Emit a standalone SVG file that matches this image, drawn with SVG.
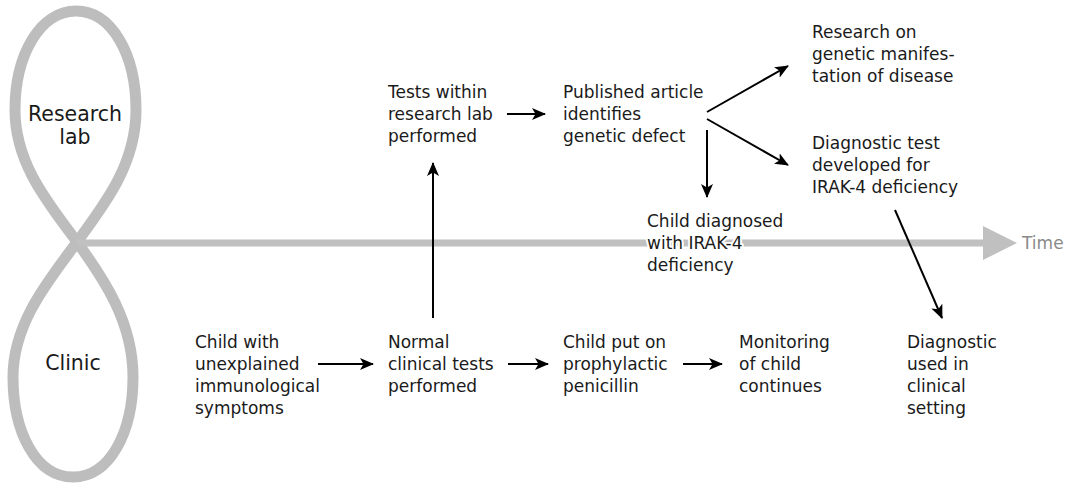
<svg xmlns="http://www.w3.org/2000/svg" width="1077" height="486" viewBox="0 0 1077 486">
  <style>
    .t { font-family: "DejaVu Sans", Verdana, sans-serif; font-size: 17px; fill: #1a1a1a; }
    .halo { stroke: #ffffff; stroke-width: 4; paint-order: stroke; stroke-linejoin: round; }
    .big { font-family: "DejaVu Sans", Verdana, sans-serif; font-size: 20.5px; fill: #1a1a1a; text-anchor: middle; }
    .time { font-family: "DejaVu Sans", Verdana, sans-serif; font-size: 17px; fill: #8a8a8a; }
    .conn { stroke: #000; stroke-width: 2; fill: none; marker-end: url(#arrow); }
  </style>
  <defs>
    <marker id="arrow" markerUnits="userSpaceOnUse" markerWidth="14" markerHeight="12" refX="13" refY="6" orient="auto">
      <path d="M0,0 L14,6 L0,12 L3.5,6 Z" fill="#000"/>
    </marker>
  </defs>
  <rect width="1077" height="486" fill="#ffffff"/>

  <!-- figure-eight: research lab loop above, clinic loop below -->
  <g id="loops">
    <path d="M77,242 C104,205 136,165 136,110 C136,55 112,11 76,11 C40,11 15,55 15,110 C15,165 50,205 77,242 C104,279 133,322 133,377 C133,432 110,477 73,477 C36,477 13,432 13,377 C13,322 50,279 77,242 Z" fill="none" stroke="#bdbdbd" stroke-width="11"/>
    <text class="big" x="75" y="121">Research</text>
    <text class="big" x="75" y="144">lab</text>
    <text class="big" x="73" y="370">Clinic</text>
  </g>

  <!-- time axis -->
  <g id="timeline">
    <rect x="77" y="239.5" width="908" height="7" fill="#c0c0c0"/>
    <polygon points="983,226 1017,243 983,260" fill="#c0c0c0"/>
    <text class="time" x="1022" y="249">Time</text>
  </g>

  <g id="connectors">
    <line class="conn" x1="507" y1="114" x2="545" y2="114"/>
    <line class="conn" x1="707" y1="130" x2="707" y2="197"/>
    <line class="conn" x1="707" y1="112" x2="788" y2="66"/>
    <line class="conn" x1="707" y1="119" x2="788" y2="165"/>
    <line class="conn" x1="895" y1="210" x2="942" y2="318"/>
    <line class="conn" x1="433" y1="318" x2="433" y2="163"/>
    <line class="conn" x1="318" y1="364" x2="373" y2="364"/>
    <line class="conn" x1="508" y1="364" x2="548" y2="364"/>
    <line class="conn" x1="683" y1="364" x2="722" y2="364"/>
  </g>

  <g id="lab-tests">
    <text class="t" x="388" y="98">Tests within</text>
    <text class="t" x="388" y="120">research lab</text>
    <text class="t" x="388" y="142">performed</text>
  </g>
  <g id="published-article">
    <text class="t" x="563" y="98">Published article</text>
    <text class="t" x="563" y="120">identifies</text>
    <text class="t" x="563" y="142">genetic defect</text>
  </g>
  <g id="research-genetic">
    <text class="t" x="812" y="38">Research on</text>
    <text class="t" x="812" y="60">genetic manifes-</text>
    <text class="t" x="812" y="82">tation of disease</text>
  </g>
  <g id="diagnostic-test">
    <text class="t" x="812" y="149">Diagnostic test</text>
    <text class="t" x="812" y="171">developed for</text>
    <text class="t" x="812" y="193">IRAK-4 deficiency</text>
  </g>
  <g id="child-diagnosed">
    <text class="t halo" x="647" y="227">Child diagnosed</text>
    <text class="t halo" x="647" y="249">with IRAK-4</text>
    <text class="t halo" x="647" y="271">deficiency</text>
  </g>
  <g id="child-symptoms">
    <text class="t" x="195" y="348">Child with</text>
    <text class="t" x="195" y="370">unexplained</text>
    <text class="t" x="195" y="392">immunological</text>
    <text class="t" x="195" y="414">symptoms</text>
  </g>
  <g id="clinical-tests">
    <text class="t" x="388" y="348">Normal</text>
    <text class="t" x="388" y="370">clinical tests</text>
    <text class="t" x="388" y="392">performed</text>
  </g>
  <g id="penicillin">
    <text class="t" x="563" y="348">Child put on</text>
    <text class="t" x="563" y="370">prophylactic</text>
    <text class="t" x="563" y="392">penicillin</text>
  </g>
  <g id="monitoring">
    <text class="t" x="739" y="348">Monitoring</text>
    <text class="t" x="739" y="370">of child</text>
    <text class="t" x="739" y="392">continues</text>
  </g>
  <g id="diagnostic-used">
    <text class="t" x="907" y="348">Diagnostic</text>
    <text class="t" x="907" y="370">used in</text>
    <text class="t" x="907" y="392">clinical</text>
    <text class="t" x="907" y="414">setting</text>
  </g>
</svg>
